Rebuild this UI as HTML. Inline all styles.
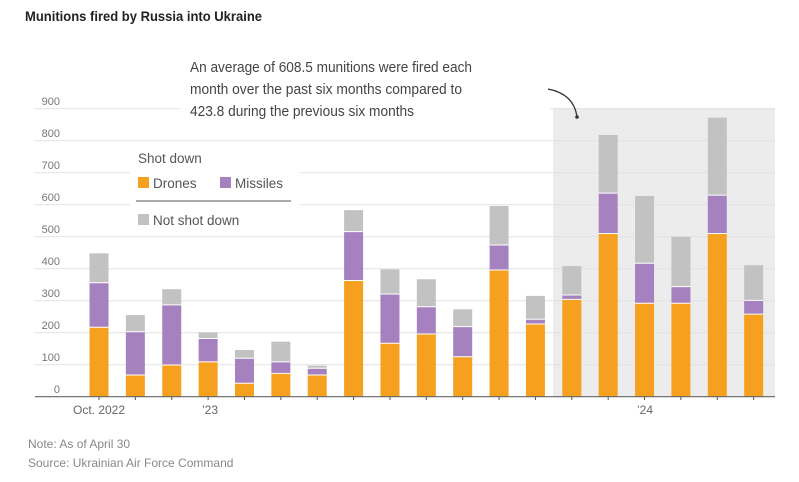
<!DOCTYPE html>
<html><head><meta charset="utf-8"><style>body{margin:0;background:#fff}svg{display:block}</style></head><body>
<svg width="799" height="482" viewBox="0 0 799 482" xmlns="http://www.w3.org/2000/svg" font-family="Liberation Sans, sans-serif">
<rect width="799" height="482" fill="#fff"/>
<text x="25" y="21" font-size="14" font-weight="bold" fill="#222" textLength="237" lengthAdjust="spacingAndGlyphs">Munitions fired by Russia into Ukraine</text>
<rect x="553" y="108" width="222" height="289" fill="#ececec"/>
<g stroke="#e2e2e2" stroke-width="1">
<line x1="35" x2="775" y1="108.7" y2="108.7"/><line x1="35" x2="775" y1="140.7" y2="140.7"/>
<line x1="35" x2="775" y1="172.7" y2="172.7"/><line x1="35" x2="775" y1="204.7" y2="204.7"/>
<line x1="35" x2="775" y1="236.7" y2="236.7"/><line x1="35" x2="775" y1="268.7" y2="268.7"/>
<line x1="35" x2="775" y1="300.7" y2="300.7"/><line x1="35" x2="775" y1="332.7" y2="332.7"/>
<line x1="35" x2="775" y1="364.7" y2="364.7"/>
</g>
<rect x="180" y="95" width="370" height="28" fill="#fff"/>
<rect x="130" y="150" width="170" height="82" fill="#fff"/>
<g font-size="11" fill="#777" text-anchor="end">
<text x="60" y="105">900</text><text x="60" y="137">800</text><text x="60" y="169">700</text>
<text x="60" y="201">600</text><text x="60" y="233">500</text><text x="60" y="265">400</text>
<text x="60" y="297">300</text><text x="60" y="329">200</text><text x="60" y="361">100</text>
<text x="60" y="393">0</text>
</g>
<g id="bars"></g>
<line x1="35" x2="775" y1="396.7" y2="396.7" stroke="#666" stroke-width="1.2"/>
<g id="ticks" stroke="#555"></g>
<g font-size="12" fill="#666" text-anchor="middle">
<text x="99" y="414">Oct. 2022</text><text x="210" y="414">’23</text><text x="645" y="414">’24</text>
</g>
<g font-size="14.5" fill="#444">
<text x="190" y="72" textLength="282" lengthAdjust="spacingAndGlyphs">An average of 608.5 munitions were fired each</text>
<text x="190" y="94" textLength="272" lengthAdjust="spacingAndGlyphs">month over the past six months compared to</text>
<text x="190" y="116" textLength="224" lengthAdjust="spacingAndGlyphs">423.8 during the previous six months</text>
</g>
<path d="M548 89 Q574 94 577 117" fill="none" stroke="#333" stroke-width="1.2"/>
<circle cx="577" cy="117" r="1.8" fill="#333"/>
<g font-size="13.5" fill="#555">
<text x="138" y="163">Shot down</text>
<rect x="138" y="177" width="11" height="11" fill="#f5a01f"/><text x="153" y="188">Drones</text>
<rect x="220" y="177" width="11" height="11" fill="#a681c0"/><text x="235" y="188">Missiles</text>
<line x1="136" x2="291" y1="201" y2="201" stroke="#555" stroke-width="1"/>
<rect x="138" y="214" width="11" height="11" fill="#c2c2c2"/><text x="153" y="225">Not shot down</text>
</g>
<g font-size="12" fill="#888">
<text x="28" y="448">Note: As of April 30</text>
<text x="28" y="467">Source: Ukrainian Air Force Command</text>
</g>
<script>
var d=[[217,356,448],[68,203,255],[99,287,336],[109,182,201],[42,120,146],[73,109,172],[68,89,97],[363,516,583],[167,321,398],[196,281,367],[125,219,273],[396,474,596],[227,242,315],[304,318,408],[510,636,818],[292,417,627],[292,344,500],[510,630,872],[258,301,411]];
var ns="http://www.w3.org/2000/svg",g=document.getElementById("bars"),t=document.getElementById("ticks");
function y(v){return 396.7-v*0.32;}
function r(x,v0,v1,c){var e=document.createElementNS(ns,"rect");e.setAttribute("x",x);e.setAttribute("width",19);e.setAttribute("y",y(v1));e.setAttribute("height",Math.max(0,y(v0)-y(v1)));e.setAttribute("fill",c);g.appendChild(e);}
function l(x1,x2,y1,y2,p,c,w){var e=document.createElementNS(ns,"line");e.setAttribute("x1",x1);e.setAttribute("x2",x2);e.setAttribute("y1",y1);e.setAttribute("y2",y2);e.setAttribute("stroke",c);e.setAttribute("stroke-width",w);p.appendChild(e);}
d.forEach(function(b,i){var cx=99+i*36.37,x=cx-9.5;
r(x,0,b[0],"#f5a01f");r(x,b[0],b[1],"#a681c0");r(x,b[1],b[2],"#c2c2c2");
l(x,x+19,y(b[0]),y(b[0]),g,"#fff",1);l(x,x+19,y(b[1]),y(b[1]),g,"#fff",1);
l(cx,cx,396.7,400,t,"#555",1);});
</script>
</svg>
</body></html>
